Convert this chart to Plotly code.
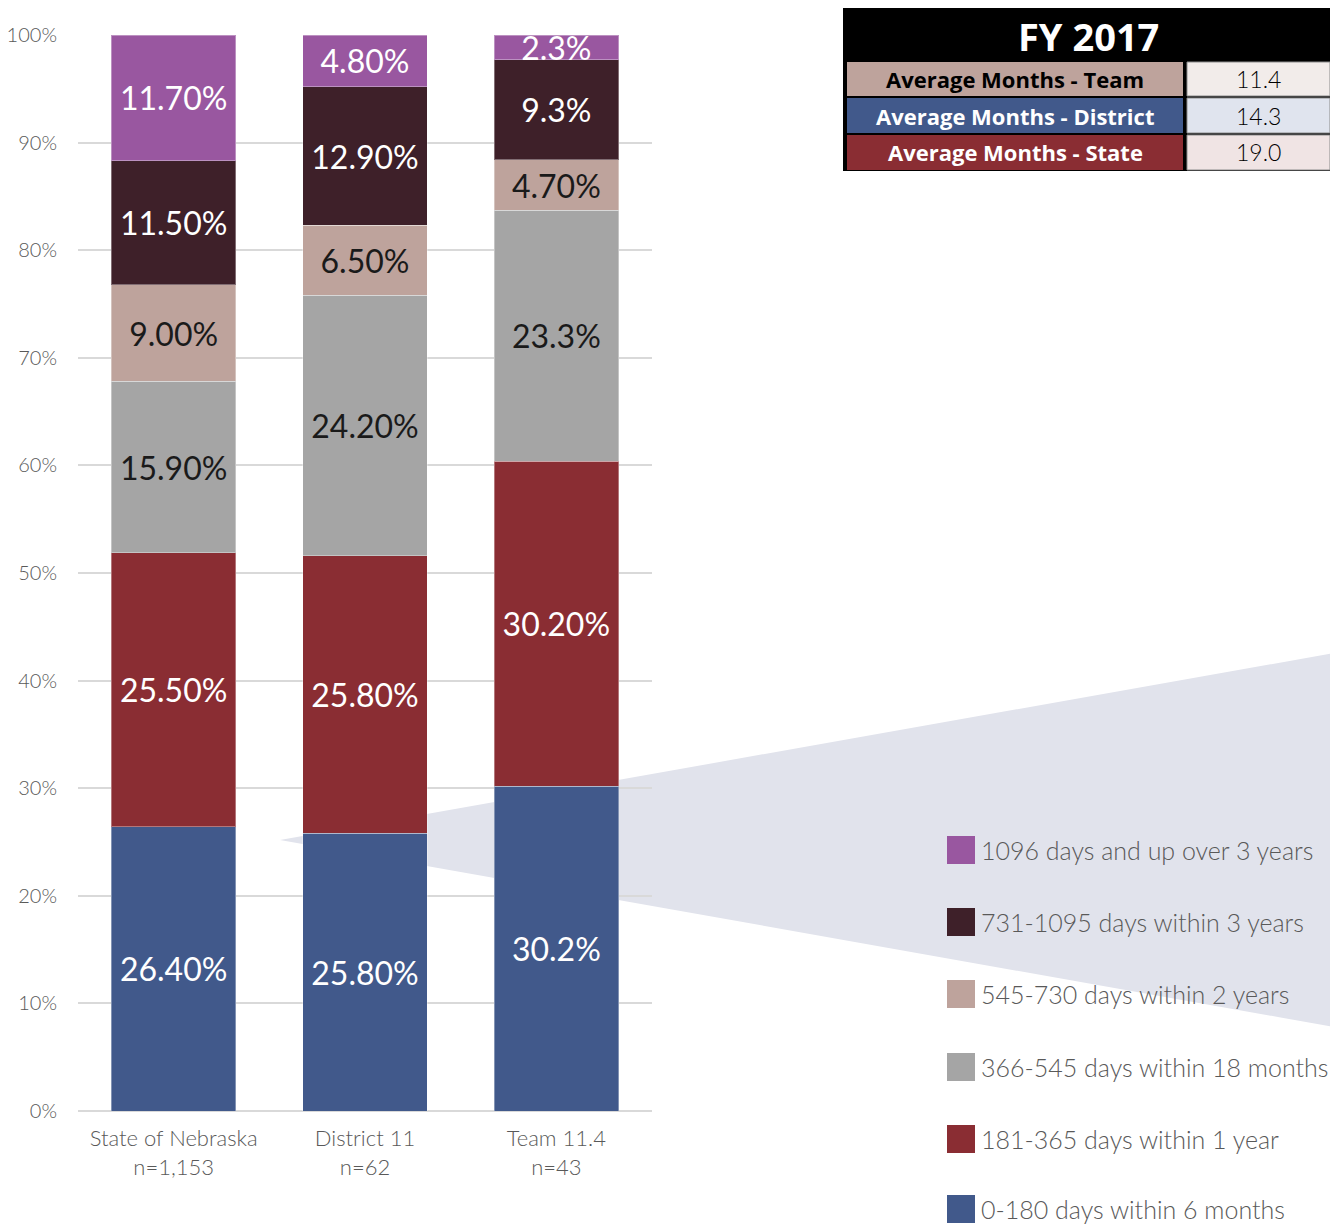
import plotly.graph_objects as go

# ---- data ----
categories = ["State of Nebraska<br>n=1,153", "District 11<br>n=62", "Team 11.4<br>n=43"]

series_names = [
    "0-180 days within 6 months",
    "181-365 days within 1 year",
    "366-545 days within 18 months",
    "545-730 days within 2 years",
    "731-1095 days within 3 years",
    "1096 days and up over 3 years",
]
days_0_180 = [26.4, 25.8, 30.2]
days_181_365 = [25.5, 25.8, 30.2]
days_366_545 = [15.9, 24.2, 23.3]
days_545_730 = [9.0, 6.5, 4.7]
days_731_1095 = [11.5, 12.9, 9.3]
days_1096_up = [11.7, 4.8, 2.3]

labels_0_180 = ["26.40%", "25.80%", "30.2%"]
labels_181_365 = ["25.50%", "25.80%", "30.20%"]
labels_366_545 = ["15.90%", "24.20%", "23.3%"]
labels_545_730 = ["9.00%", "6.50%", "4.70%"]
labels_731_1095 = ["11.50%", "12.90%", "9.3%"]
labels_1096_up = ["11.70%", "4.80%", "2.3%"]

table_title = "FY 2017"
table_labels = ["Average Months - Team", "Average Months - District", "Average Months - State"]
table_values = ["11.4", "14.3", "19.0"]

# ---- style ----
colors = ["#41598B", "#8A2D33", "#A5A5A5", "#BEA39C", "#3E2029", "#9957A0"]
text_colors = ["white", "white", "#1a1a1a", "#1a1a1a", "white", "white"]
FONT = "Lato"
GREY_TEXT = "#595959"

# page has an 8px body margin, so the figure starts at (8, 8)
OFF = 8
W, H = 1338 - OFF, 1224 - OFF
L, R, T, B = 78 - OFF, 652 - OFF, 35 - OFF, 1111 - OFF


def px_x(px):
    return (px - OFF - L) / (R - L)


def px_y(py):
    return (B - (py - OFF)) / (B - T)


fig = go.Figure()

all_values = [days_0_180, days_181_365, days_366_545, days_545_730, days_731_1095, days_1096_up]
all_labels = [labels_0_180, labels_181_365, labels_366_545, labels_545_730, labels_731_1095, labels_1096_up]

for i, name in enumerate(series_names):
    fig.add_trace(
        go.Bar(
            x=categories,
            y=all_values[i],
            name=name,
            text=all_labels[i],
            textposition="inside",
            insidetextanchor="middle",
            textangle=0,
            constraintext="none",
            textfont=dict(family=FONT, size=32, color=text_colors[i]),
            marker=dict(color=colors[i], line=dict(color="rgba(255,255,255,0.35)", width=1)),
            showlegend=False,
            hoverinfo="skip",
        )
    )

shapes = []
annotations = []

# callout wedge behind the chart
shapes.append(
    dict(
        type="path",
        xref="paper",
        yref="paper",
        path="M {:.4f} {:.4f} L {:.4f} {:.4f} L {:.4f} {:.4f} Z".format(
            px_x(280), px_y(840), px_x(1340), px_y(652), px_x(1340), px_y(1028)
        ),
        fillcolor="#E1E3EC",
        line=dict(width=0),
        layer="below",
    )
)

# legend (top item = last series)
legend_y = [850, 922, 994, 1067, 1139, 1209]
for k, i in enumerate(reversed(range(len(series_names)))):
    cy = legend_y[k]
    shapes.append(
        dict(
            type="rect", xref="paper", yref="paper",
            x0=px_x(947), x1=px_x(975), y0=px_y(cy + 14), y1=px_y(cy - 14),
            fillcolor=colors[i], line=dict(width=0),
        )
    )
    annotations.append(
        dict(
            x=px_x(979), y=px_y(cy), xref="paper", yref="paper",
            text=series_names[i], showarrow=False, xanchor="left", yanchor="middle",
            font=dict(family=FONT, size=25, weight=300, color=GREY_TEXT),
        )
    )

# summary table
shapes.append(
    dict(type="rect", xref="paper", yref="paper",
         x0=px_x(843), x1=px_x(1332), y0=px_y(171), y1=px_y(8),
         fillcolor="black", line=dict(width=0))
)
annotations.append(
    dict(x=px_x(1088), y=px_y(36), xref="paper", yref="paper", text="<b>" + table_title + "</b>",
         showarrow=False, xanchor="center", yanchor="middle",
         font=dict(family="Open Sans", size=38, color="white"))
)
left_fill = ["#BEA39C", "#41598B", "#8A2D33"]
left_text = ["black", "white", "white"]
right_fill = ["#F2ECEA", "#E0E4EE", "#F0E4E4"]
row_tops = [62, 98, 135]
row_bots = [96, 133, 170]
for r in range(3):
    shapes.append(
        dict(type="rect", xref="paper", yref="paper",
             x0=px_x(847), x1=px_x(1183), y0=px_y(row_bots[r]), y1=px_y(row_tops[r]),
             fillcolor=left_fill[r], line=dict(width=0))
    )
    shapes.append(
        dict(type="rect", xref="paper", yref="paper",
             x0=px_x(1187), x1=px_x(1330), y0=px_y(row_bots[r]), y1=px_y(row_tops[r]),
             fillcolor=right_fill[r], line=dict(color="#8c8c8c", width=1))
    )
    cy = (row_tops[r] + row_bots[r]) / 2
    annotations.append(
        dict(x=px_x(1015), y=px_y(cy), xref="paper", yref="paper",
             text="<b>" + table_labels[r] + "</b>", showarrow=False,
             xanchor="center", yanchor="middle",
             font=dict(family="Open Sans", size=22, color=left_text[r]))
    )
    annotations.append(
        dict(x=px_x(1258), y=px_y(cy), xref="paper", yref="paper",
             text=table_values[r], showarrow=False,
             xanchor="center", yanchor="middle",
             font=dict(family=FONT, size=23, weight=300, color="black"))
    )

fig.update_layout(
    width=W,
    height=H,
    margin=dict(l=L, r=W - R, t=T, b=H - B, pad=0),
    barmode="stack",
    bargap=0.35,
    paper_bgcolor="white",
    plot_bgcolor="rgba(0,0,0,0)",
    font=dict(family=FONT, color=GREY_TEXT),
    shapes=shapes,
    annotations=annotations,
    showlegend=False,
)
fig.update_yaxes(
    range=[0, 100],
    dtick=10,
    ticksuffix="%",
    showgrid=True,
    gridcolor="#D9D9D9",
    gridwidth=2,
    zeroline=True,
    zerolinecolor="#D9D9D9",
    zerolinewidth=2,
    ticklabelstandoff=20,
    automargin=False,
    tickfont=dict(family=FONT, size=20, weight=300, color=GREY_TEXT),
    fixedrange=True,
)
fig.update_xaxes(
    showgrid=False,
    showline=False,
    ticks="",
    ticklabelstandoff=12,
    automargin=False,
    tickfont=dict(family=FONT, size=22, weight=300, color=GREY_TEXT),
    fixedrange=True,
)

fig.write_html("out.html")
